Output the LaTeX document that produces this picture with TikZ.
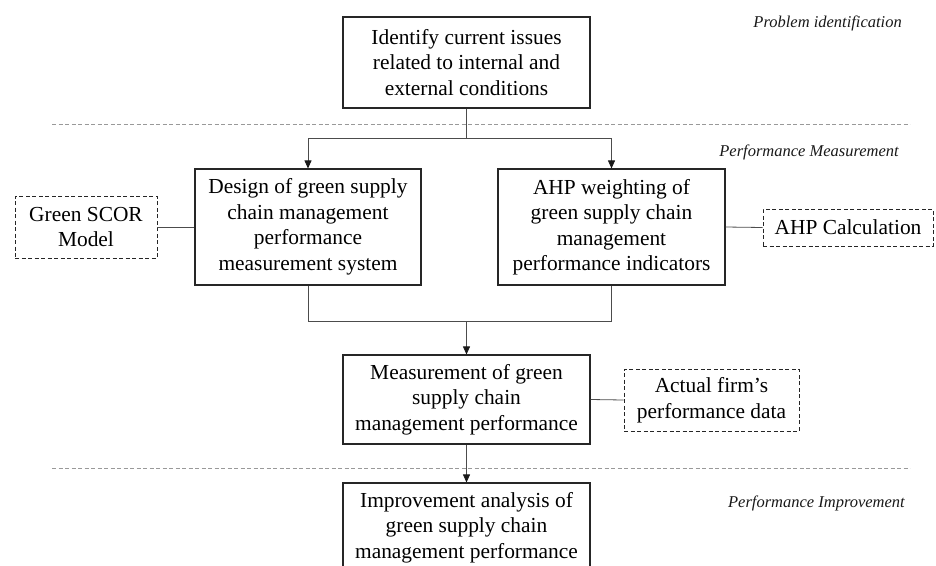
\documentclass[tikz,border=0pt]{standalone}
\usepackage{fontspec}
\setmainfont{Liberation Serif}
\usetikzlibrary{arrows.meta}
\begin{document}
\begin{tikzpicture}[x=1pt,y=-1pt,
  box/.style={draw=black!85,line width=1.1pt,inner sep=0pt,align=center,
    font=\fontsize{21.4}{25.5}\selectfont},
  dbox/.style={draw=black!85,line width=0.9pt,dash pattern=on 4pt off 2.5pt,inner sep=0pt,align=center,
    font=\fontsize{21.4}{25.5}\selectfont},
  conn/.style={draw=black!70,line width=0.8pt},
  arr/.style={conn,-{Triangle[length=8pt,width=7pt,color=black!90,fill=black!90]}},
  sep/.style={draw=black!40,line width=0.9pt,dash pattern=on 4pt off 2.5pt},
  lab/.style={anchor=east,font=\fontsize{16.5}{19}\selectfont\itshape,text=black!90,inner sep=0pt}]
\useasboundingbox (0,0) rectangle (936,565);
\clip (0,0) rectangle (936,565);
% dashed separators
\coordinate (d1a) at (52,124); \coordinate (d1b) at (910,124);
\coordinate (d2a) at (52,468); \coordinate (d2b) at (910,468);
\draw[sep] (d1a) -- (d1b);
\draw[sep] (d2a) -- (d2b);
% labels
\node[lab] (l1) at (902,23) {Problem identification};
\node[lab] (l2) at (899,152) {Performance Measurement};
\node[lab] (l3) at (905,503) {Performance Improvement};
% boxes
\node[box,minimum width=247pt,minimum height=91pt] (top) at (466.5,62.5)
  {Identify current issues\\related to internal and\\external conditions};
\node[box,minimum width=226pt,minimum height=116pt] (design) at (308,227)
  {Design of green supply\\chain management\\performance\\measurement system};
\node[box,minimum width=227pt,minimum height=116pt] (ahp) at (611.5,227)
  {AHP weighting of\\green supply chain\\management\\performance indicators};
\node[dbox,minimum width=142pt,minimum height=62pt] (scor) at (86,227)
  {Green SCOR\\Model};
\node[dbox,minimum width=170pt,minimum height=37pt] (calc) at (848,227.5)
  {AHP Calculation};
\node[box,minimum width=247pt,minimum height=89pt] (meas) at (466.5,399.5)
  {Measurement of green\\supply chain\\management performance};
\node[dbox,minimum width=175pt,minimum height=62pt] (firm) at (711.5,400)
  {Actual firm’s\\performance data};
\node[box,minimum width=247pt,minimum height=89pt] (impr) at (466.5,527.5)
  {Improvement analysis of\\green supply chain\\management performance};
% connectors
\coordinate (split) at (466.5,138);
\coordinate (merge) at (466.5,321);
\draw[conn] (top.south) -- (split);
\draw[arr] (split) -| (design.north);
\draw[arr] (split) -| (ahp.north);
\draw[conn] (design.south) |- (merge);
\draw[conn] (ahp.south) |- (merge);
\draw[arr] (merge) -- (meas.north);
\draw[conn] (scor.east) -- (design.west);
\draw[conn] (ahp.east) -- (calc.west);
\draw[conn] (meas.east) -- (firm.west);
\draw[arr] (meas.south) -- (impr.north);
\end{tikzpicture}
\end{document}
